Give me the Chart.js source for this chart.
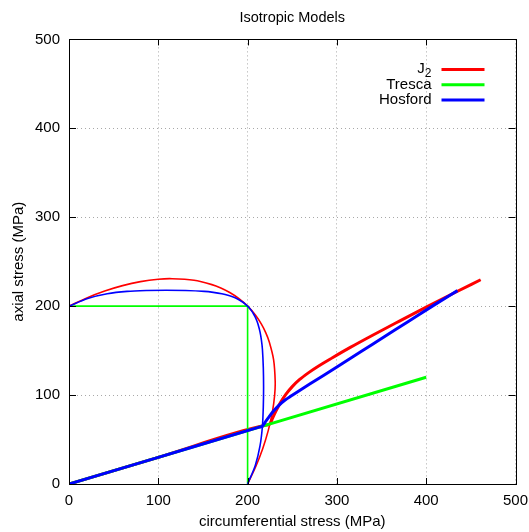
<!DOCTYPE html>
<html>
<head>
<meta charset="utf-8">
<script src="https://cdn.jsdelivr.net/npm/chart.js@4.4.1/dist/chart.umd.min.js"></script>
<style>
  html, body { margin: 0; padding: 0; background: #fff; }
  #wrap { width: 529px; height: 532px; }
</style>
</head>
<body>
<div id="wrap"><canvas id="modelChart" width="529" height="532"></canvas></div>
<script>
// yield surfaces in the circumferential / axial stress plane (MPa), sigma_y = 200
const j2SurfHoop  = [0, 20, 40, 60, 80, 100, 115.5, 140, 160, 170, 180, 190, 200,
                     208.7, 215.3, 220.4, 224.2, 229.1, 230.9, 230.3, 227.6, 223.1, 217.0, 209.3, 200];
const j2SurfAxial = [200, 209.3, 217.0, 223.1, 227.6, 230.3, 230.9, 229.1, 224.2, 220.4, 215.3, 208.7, 200,
                     190, 180, 170, 160, 140, 115.5, 100, 80, 60, 40, 20, 0];

const trescaSurfHoop  = [0, 200, 200];
const trescaSurfAxial = [200, 200, 0];

const hosfordSurfHoop  = [0, 20.9, 42.8, 65.0, 87.1, 108.9, 130.6, 151.6, 161.6, 171.1, 179.9, 183.9, 187.7, 191.2, 194.4, 197.4, 200,
                          202.4, 204.7, 206.7, 208.6, 210.2, 211.6, 213.9, 215.5, 216.6, 217.6, 217.9, 217.6, 216.6, 213.9, 208.6, 200];
const hosfordSurfAxial = [200, 208.6, 213.9, 216.6, 217.6, 217.9, 217.6, 216.6, 215.5, 213.9, 211.6, 210.2, 208.6, 206.7, 204.7, 202.4, 200,
                          197.4, 194.4, 191.2, 187.7, 183.9, 179.9, 171.1, 161.6, 151.6, 130.6, 108.9, 87.1, 65.0, 42.8, 20.9, 0];

// proportional loading paths (axial/hoop = 0.3 up to yield, then hardening)
const j2PathHoop  = [0, 100, 221, 225, 228, 232, 237, 243, 250, 258, 268, 280, 295, 315, 340, 370, 400, 430, 461];
const j2PathAxial = [0, 30, 66.3, 67.5, 74.2, 82.6, 91.8, 101, 109.5, 117.3, 125, 133, 142, 153.6, 167.3, 183.2, 198.9, 214.2, 229.7];

const trescaPathHoop  = [0, 200, 400];
const trescaPathAxial = [0, 60, 120];

const hosfordPathHoop  = [0, 100, 213, 216.6, 220, 224, 229, 235, 242, 250, 260, 275, 300, 340, 380, 410, 435];
const hosfordPathAxial = [0, 30, 63.9, 65, 70, 75.5, 82, 88.5, 94.5, 99.8, 106.3, 115.8, 131.6, 157.2, 182.8, 202, 217.5];

const modelNames  = ['J2', 'Tresca', 'Hosford'];
const modelColors = ['#ff0000', '#00ff00', '#0000ff'];

const tickValues = [0, 100, 200, 300, 400, 500];

const FONT = '"Liberation Sans", Arial, Helvetica, sans-serif';

function toPoints(xs, ys) {
    return xs.map((x, i) => ({ x: x, y: ys[i] }));
}

const surfaces = [
    toPoints(j2SurfHoop, j2SurfAxial),
    toPoints(trescaSurfHoop, trescaSurfAxial),
    toPoints(hosfordSurfHoop, hosfordSurfAxial)
];
const paths = [
    toPoints(j2PathHoop, j2PathAxial),
    toPoints(trescaPathHoop, trescaPathAxial),
    toPoints(hosfordPathHoop, hosfordPathAxial)
];

var datasets = [];
for (var m = 0; m < modelNames.length; m++) {
    // later models are drawn on top
    datasets.push({
        label: modelNames[m] + ' surface',
        data: surfaces[m],
        borderColor: modelColors[m],
        borderWidth: 1.6,
        tension: m === 1 ? 0 : 0.3,
        order: 10 - m * 2
    });
    // paths only ever move right, so monotone splines keep them from wobbling
    datasets.push({
        label: modelNames[m],
        inLegend: true,
        data: paths[m],
        borderColor: modelColors[m],
        borderWidth: 3,
        cubicInterpolationMode: 'monotone',
        order: 9 - m * 2
    });
}

// gnuplot style frame: full border, inward ticks on all four sides
const framePlugin = {
    id: 'frame',
    afterDatasetsDraw(chart) {
        const ctx = chart.ctx;
        const a = chart.chartArea;
        const xs = chart.scales.x, ys = chart.scales.y;
        ctx.save();
        ctx.strokeStyle = '#000';
        ctx.lineWidth = 1;
        ctx.beginPath();
        for (const v of tickValues) {
            const px = Math.round(xs.getPixelForValue(v)) + 0.5;
            ctx.moveTo(px, a.bottom); ctx.lineTo(px, a.bottom - 6);
            ctx.moveTo(px, a.top); ctx.lineTo(px, a.top + 6);
            const py = Math.round(ys.getPixelForValue(v)) + 0.5;
            ctx.moveTo(a.left, py); ctx.lineTo(a.left + 7, py);
            ctx.moveTo(a.right, py); ctx.lineTo(a.right - 7, py);
        }
        ctx.stroke();
        ctx.strokeRect(Math.round(a.left) + 0.5, Math.round(a.top) + 0.5,
                       Math.round(a.right - a.left), Math.round(a.bottom - a.top));
        ctx.restore();
    }
};

// key in the top right corner: label right-aligned, sample line after it
const keyPlugin = {
    id: 'key',
    afterDraw(chart) {
        const ctx = chart.ctx;
        const a = chart.chartArea;
        const textRight = a.right - 84;
        const lineStart = a.right - 74;
        const lineEnd = a.right - 31;
        let y = a.top + 30;
        ctx.save();
        ctx.textBaseline = 'middle';
        ctx.textAlign = 'right';
        for (const ds of chart.data.datasets) {
            if (!ds.inLegend) continue;
            ctx.fillStyle = '#000';
            if (ds.label === 'J2') {
                ctx.font = '12px ' + FONT;
                const w = ctx.measureText('2').width;
                ctx.fillText('2', textRight, y + 4);
                ctx.font = '15px ' + FONT;
                ctx.fillText('J', textRight - w, y - 1);
            } else {
                ctx.font = '15px ' + FONT;
                ctx.fillText(ds.label, textRight, y);
            }
            ctx.strokeStyle = ds.borderColor;
            ctx.lineWidth = 3;
            ctx.beginPath();
            ctx.moveTo(lineStart, y);
            ctx.lineTo(lineEnd, y);
            ctx.stroke();
            y += 15.3;
        }
        ctx.restore();
    }
};

function axisOptions(titleText, isX) {
    return {
        type: 'linear',
        min: 0,
        max: 500,
        afterBuildTicks(scale) {
            scale.ticks = tickValues.map(v => ({ value: v }));
        },
        ticks: {
            color: '#000',
            font: { family: FONT, size: 15 },
            padding: isX ? 8 : 9,
            maxRotation: 0
        },
        grid: {
            color: '#a8a8a8',
            lineWidth: 1,
            drawTicks: false
        },
        border: { display: false, dash: [1, 3] },
        title: {
            display: true,
            text: titleText,
            color: '#000',
            font: { family: FONT, size: 15 },
            padding: isX ? { top: 0, bottom: 1 } : { top: 10, bottom: 0 }
        },
        afterFit(scale) {
            if (isX) {
                scale.height = 48;
                // the "500" label may hang past the frame instead of shrinking it
                scale.paddingRight = 13.5;
            } else {
                scale.width = 69;
            }
        }
    };
}

new Chart(document.getElementById('modelChart'), {
    type: 'scatter',
    data: { datasets: datasets },
    options: {
        responsive: false,
        animation: false,
        devicePixelRatio: 1,
        showLine: true,
        layout: { padding: 0 },
        elements: {
            point: { radius: 0, hoverRadius: 0 },
            line: { fill: false, capBezierPoints: true }
        },
        scales: {
            x: axisOptions('circumferential stress (MPa)', true),
            y: axisOptions('axial stress (MPa)', false)
        },
        plugins: {
            legend: { display: false },
            tooltip: { enabled: false },
            title: {
                display: true,
                text: 'Isotropic Models',
                fullSize: false,
                color: '#000',
                font: { family: FONT, size: 14.5, weight: 'normal' },
                padding: { top: 9, bottom: 13 }
            }
        }
    },
    plugins: [framePlugin, keyPlugin]
});
</script>
</body>
</html>
